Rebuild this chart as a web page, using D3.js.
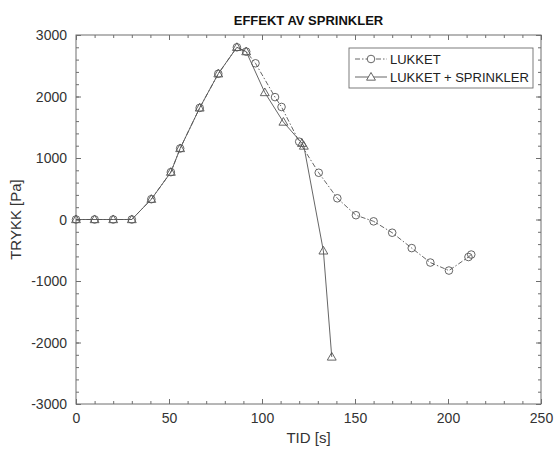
<!DOCTYPE html>
<html>
<head>
<meta charset="utf-8">
<script src="https://cdn.jsdelivr.net/npm/d3@7"></script>
<style>
  body { margin: 0; background: #fff; }
  svg { font-family: "Liberation Sans", Arial, sans-serif; }
</style>
</head>
<body>
<svg id="chart" width="560" height="453"></svg>
<script>
// series data [TID (s), TRYKK (Pa)]
const lukket = [
  [0, 0], [10, 0], [20, 0], [30, 0], [40.5, 330], [51, 770], [56, 1155],
  [66.5, 1815], [76.5, 2370], [86.5, 2800], [91.5, 2730], [96.5, 2540],
  [107, 1990], [110.5, 1830], [120, 1265], [130.5, 760], [140.5, 345],
  [150.5, 70], [160, -30], [170, -215], [180.5, -465], [190.5, -700],
  [200.5, -830], [211, -610], [212.5, -570]
];
const sprinkler = [
  [0, 0], [10, 0], [20, 0], [30, 0], [40.5, 330], [51, 770], [56, 1155],
  [66.5, 1815], [76.5, 2370], [86.5, 2800], [91.5, 2730], [101.5, 2065],
  [111.5, 1585], [121.5, 1240], [122.5, 1195], [133, -510], [137.5, -2235]
];
const xTicks = [0, 50, 100, 150, 200, 250];
const yTicks = [-3000, -2000, -1000, 0, 1000, 2000, 3000];
const legendLabels = ['LUKKET', 'LUKKET + SPRINKLER'];

const svg = d3.select('#chart');
const margin = { top: 35, right: 19, bottom: 49, left: 76 };
const width = 560 - margin.left - margin.right;
const height = 453 - margin.top - margin.bottom;

const x = d3.scaleLinear().domain([0, 250]).range([0, width]);
const y = d3.scaleLinear().domain([-3000, 3000]).range([height, 0]);

const g = svg.append('g').attr('transform', `translate(${margin.left},${margin.top})`);

const axisColor = '#6e6e6e';
const lineColor = '#555';
const fmt = d => String(d);

// minor + major ticks on all four sides
function drawAxis(axis, transform) {
  const a = g.append('g').attr('transform', transform).call(axis);
  a.select('.domain').remove();
  a.selectAll('line').attr('stroke', axisColor);
  return a;
}
const minorX = d3.range(0, 251, 10);
const minorY = d3.range(-3000, 3001, 200);
drawAxis(d3.axisBottom(x).tickValues(minorX).tickSize(-3).tickFormat(''), `translate(0,${height})`);
drawAxis(d3.axisTop(x).tickValues(minorX).tickSize(-3).tickFormat(''), 'translate(0,0)');
drawAxis(d3.axisLeft(y).tickValues(minorY).tickSize(-3).tickFormat(''), 'translate(0,0)');
drawAxis(d3.axisRight(y).tickValues(minorY).tickSize(-3).tickFormat(''), `translate(${width},0)`);
drawAxis(d3.axisTop(x).tickValues(xTicks).tickSize(-5).tickFormat(''), 'translate(0,0)');
drawAxis(d3.axisRight(y).tickValues(yTicks).tickSize(-5).tickFormat(''), `translate(${width},0)`);

const xAxis = drawAxis(d3.axisBottom(x).tickValues(xTicks).tickSize(-5).tickPadding(9).tickFormat(fmt), `translate(0,${height})`);
const yAxis = drawAxis(d3.axisLeft(y).tickValues(yTicks).tickSize(-5).tickPadding(9).tickFormat(fmt), 'translate(0,0)');
[xAxis, yAxis].forEach(a => a.selectAll('text')
  .attr('fill', '#333').style('font-size', '14px').style('font-family', '"Liberation Sans", Arial, sans-serif'));
yAxis.selectAll('text').attr('dy', '0.35em');

g.append('rect')
  .attr('width', width).attr('height', height)
  .attr('fill', 'none').attr('stroke', axisColor).attr('stroke-width', 1);

// lines
const line = d3.line().x(d => x(d[0])).y(d => y(d[1]));
g.append('path').datum(lukket).attr('d', line)
  .attr('fill', 'none').attr('stroke', lineColor).attr('stroke-width', 0.9)
  .attr('stroke-dasharray', '5,2,1.5,2');
g.append('path').datum(sprinkler).attr('d', line)
  .attr('fill', 'none').attr('stroke', lineColor).attr('stroke-width', 0.9);

// markers
const tri = d3.symbol().type(d3.symbolTriangle).size(34);
g.selectAll('.circ').data(lukket).enter().append('circle')
  .attr('cx', d => x(d[0])).attr('cy', d => y(d[1])).attr('r', 3.8)
  .attr('fill', 'none').attr('stroke', lineColor).attr('stroke-width', 0.9);
g.selectAll('.tri').data(sprinkler).enter().append('path')
  .attr('d', tri)
  .attr('transform', d => `translate(${x(d[0])},${y(d[1]) + 0.6})`)
  .attr('fill', 'none').attr('stroke', lineColor).attr('stroke-width', 0.9);

// title and labels
svg.append('text').attr('x', margin.left + width / 2).attr('y', 25)
  .attr('text-anchor', 'middle').style('font-size', '13px').style('font-weight', 'bold')
  .attr('fill', '#111').text('EFFEKT AV SPRINKLER');
svg.append('text').attr('x', margin.left + width / 2).attr('y', 443)
  .attr('text-anchor', 'middle').style('font-size', '15px').attr('fill', '#333').text('TID [s]');
svg.append('text')
  .attr('transform', `translate(21,${margin.top + height / 2}) rotate(-90)`)
  .attr('text-anchor', 'middle').style('font-size', '15px').attr('fill', '#333').text('TRYKK [Pa]');

// legend
const lg = svg.append('g').attr('transform', 'translate(349,48)');
lg.append('rect').attr('width', 184).attr('height', 40)
  .attr('fill', '#fff').attr('stroke', axisColor).attr('stroke-width', 0.9);
legendLabels.forEach((lab, i) => {
  const ly = 11 + i * 18;
  lg.append('line').attr('x1', 6).attr('x2', 38).attr('y1', ly).attr('y2', ly)
    .attr('stroke', lineColor).attr('stroke-width', 0.9)
    .attr('stroke-dasharray', i === 0 ? '5,2,1.5,2' : null);
  if (i === 0) {
    lg.append('circle').attr('cx', 22).attr('cy', ly).attr('r', 3.8)
      .attr('fill', '#fff').attr('stroke', lineColor).attr('stroke-width', 0.9);
  } else {
    lg.append('path').attr('d', tri).attr('transform', `translate(22,${ly + 0.6})`)
      .attr('fill', '#fff').attr('stroke', lineColor).attr('stroke-width', 0.9);
  }
  lg.append('text').attr('x', 41).attr('y', ly).attr('dy', '0.35em')
    .style('font-size', '13px').attr('fill', '#222').text(lab);
});
</script>
</body>
</html>
